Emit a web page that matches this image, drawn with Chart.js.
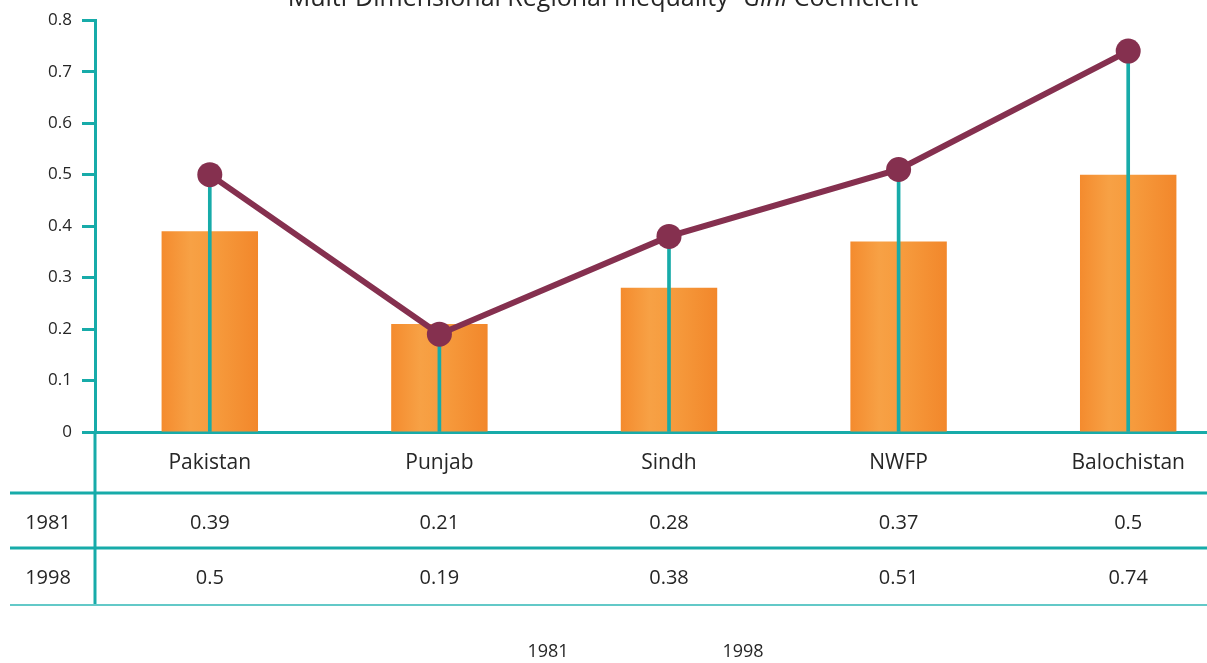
<!DOCTYPE html>
<html>
<head>
<meta charset="utf-8">
<title>Multi-Dimensional Regional Inequality - Gini Coefficient</title>
<script src="https://cdn.jsdelivr.net/npm/chart.js@4/dist/chart.umd.min.js"></script>
<style>
  html, body { margin: 0; padding: 0; background: #ffffff; overflow: hidden; }
  #wrap { position: absolute; left: 0; top: 0; width: 1260px; height: 663px; }
</style>
</head>
<body>
<div id="wrap"><canvas id="gini" width="1260" height="663"></canvas></div>
<script>
// Regions and Gini coefficients
const regions = ['Pakistan', 'Punjab', 'Sindh', 'NWFP', 'Balochistan'];
const years = ['1981', '1998'];
const gini1981 = [0.39, 0.21, 0.28, 0.37, 0.5];
const gini1998 = [0.5, 0.19, 0.38, 0.51, 0.74];
const yTicks = [0, 0.1, 0.2, 0.3, 0.4, 0.5, 0.6, 0.7, 0.8];

const TEAL = '#17aba9';
const TEAL_LIGHT = '#63c9c8';
const MAROON = '#85304f';
const TEXT = '#262626';
const FONT = '"Open Sans", "Noto Sans", sans-serif';

// Horizontal shading for each orange bar
function barFill(ctx) {
  const chart = ctx.chart;
  const xs = chart.scales && chart.scales.x;
  if (!xs || ctx.dataIndex === undefined || !chart.chartArea) return '#f59a3a';
  const cx = xs.getPixelForValue(ctx.dataIndex);
  const half = (xs.width / regions.length) * 0.42 / 2;
  const g = chart.ctx.createLinearGradient(cx - half, 0, cx + half, 0);
  g.addColorStop(0, '#f48b2e');
  g.addColorStop(0.3, '#f7a145');
  g.addColorStop(0.55, '#f69b3d');
  g.addColorStop(1, '#f2872b');
  return g;
}

// Title, table rows below the axis and the year labels at the bottom
const tablePlugin = {
  id: 'tablePlugin',
  afterDraw(chart) {
    const { ctx, scales: { x } } = chart;
    ctx.save();

    // title, partly above the top edge
    const t1 = 'Multi-Dimensional Regional Inequality- ';
    const t2 = 'Gini';
    const t3 = ' Coefficient';
    const fN = '25px ' + FONT, fI = 'italic 25px ' + FONT;
    ctx.font = fN; const w1 = ctx.measureText(t1).width; const w3 = ctx.measureText(t3).width;
    ctx.font = fI; const w2 = ctx.measureText(t2).width;
    let tx = 603 - (w1 + w2 + w3) / 2;
    const ty = 6;
    ctx.fillStyle = TEXT; ctx.textBaseline = 'alphabetic'; ctx.textAlign = 'left';
    ctx.font = fN; ctx.fillText(t1, tx, ty); tx += w1;
    ctx.font = fI; ctx.fillText(t2, tx, ty); tx += w2;
    ctx.font = fN; ctx.fillText(t3, tx, ty);

    // y axis continues down through the table
    const axX = chart.scales.y.right;
    ctx.strokeStyle = TEAL; ctx.lineWidth = 3;
    ctx.beginPath(); ctx.moveTo(axX, chart.chartArea.bottom); ctx.lineTo(axX, 606); ctx.stroke();

    // table separators
    ctx.beginPath(); ctx.moveTo(10, 493); ctx.lineTo(chart.width, 493); ctx.stroke();
    ctx.beginPath(); ctx.moveTo(10, 548); ctx.lineTo(chart.width, 548); ctx.stroke();
    ctx.strokeStyle = TEAL_LIGHT; ctx.lineWidth = 2;
    ctx.beginPath(); ctx.moveTo(10, 605); ctx.lineTo(chart.width, 605); ctx.stroke();

    // row labels and values
    ctx.fillStyle = TEXT; ctx.font = '20px ' + FONT; ctx.textBaseline = 'middle';
    ctx.textAlign = 'center';
    ctx.fillText(years[0], 48, 523);
    ctx.fillText(years[1], 48, 578);
    const fmt = v => String(v);
    gini1981.forEach((v, i) => ctx.fillText(fmt(v), x.getPixelForValue(i), 523));
    gini1998.forEach((v, i) => ctx.fillText(fmt(v), x.getPixelForValue(i), 578));

    // year labels at the bottom
    ctx.font = '18px ' + FONT;
    ctx.fillText(years[0], 548, 652);
    ctx.fillText(years[1], 743, 652);
    ctx.restore();
  }
};

new Chart(document.getElementById('gini'), {
  data: {
    labels: regions,
    datasets: [
      {
        type: 'line',
        label: years[1],
        data: gini1998,
        borderColor: MAROON,
        backgroundColor: MAROON,
        borderWidth: 6,
        pointRadius: 12.5,
        pointHoverRadius: 12.5,
        pointBackgroundColor: MAROON,
        pointBorderWidth: 0,
        tension: 0,
        order: 1
      },
      {
        type: 'bar',
        label: years[1] + ' stem',
        data: gini1998,
        backgroundColor: TEAL,
        barThickness: 3,
        grouped: false,
        order: 2
      },
      {
        type: 'bar',
        label: years[0],
        data: gini1981,
        backgroundColor: barFill,
        barPercentage: 0.42,
        categoryPercentage: 1,
        grouped: false,
        order: 3
      }
    ]
  },
  options: {
    responsive: false,
    animation: false,
    layout: { padding: { top: 14, right: 17, left: 0, bottom: 0 } },
    plugins: {
      legend: { display: false },
      tooltip: { enabled: false },
      title: { display: false }
    },
    scales: {
      x: {
        type: 'category',
        grid: { display: false, drawTicks: false },
        border: { color: TEAL, width: 3 },
        ticks: { color: TEXT, font: { family: FONT, size: 21 }, padding: 18, maxRotation: 0 },
        afterFit(s) { s.height = 231; }
      },
      y: {
        min: 0,
        max: 0.8,
        afterBuildTicks(s) { s.ticks = yTicks.map(v => ({ value: v })); },
        grid: { drawOnChartArea: false, drawTicks: true, tickLength: 13, tickWidth: 3, tickColor: TEAL },
        border: { color: TEAL, width: 3 },
        ticks: { color: TEXT, font: { family: FONT, size: 17 }, padding: 10 },
        afterFit(s) { s.width = 95; }
      }
    }
  },
  plugins: [tablePlugin]
});
</script>
</body>
</html>
